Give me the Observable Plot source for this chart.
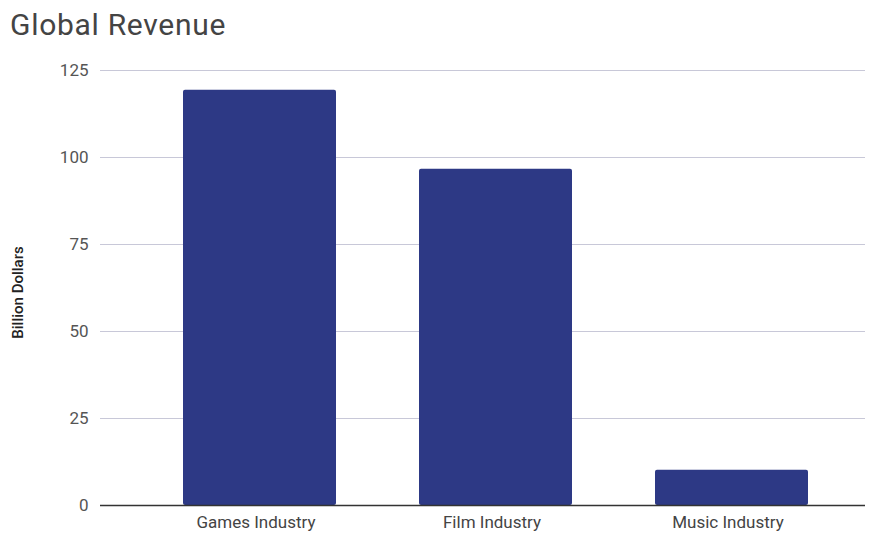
<!DOCTYPE html>
<html><head><meta charset="utf-8">
<script src="https://cdn.jsdelivr.net/npm/d3@7"></script>
<script src="https://cdn.jsdelivr.net/npm/@observablehq/plot@0.6"></script>
<style>
body{margin:0;background:#fff;font-family:Roboto,sans-serif;}
#title{position:absolute;left:10px;top:7px;font-size:30px;letter-spacing:0.7px;color:#444;font-family:Roboto;}
#chart{position:absolute;left:0;top:50px;}
</style></head><body>
<div id="title">Global Revenue</div>
<div id="chart"></div>
<script>
const categories = ["Games Industry", "Film Industry", "Music Industry"];
const revenue = [119.3, 96.6, 10.1];
const yTicks = [0, 25, 50, 75, 100, 125];
const yLabel = "Billion Dollars";
const data = categories.map((c, i) => ({category: c, value: revenue[i]}));
const plot = Plot.plot({
  width: 879, height: 483,
  marginTop: 20, marginBottom: 28, marginLeft: 100, marginRight: 14,
  style: {fontFamily: "Roboto", fontSize: "15px", color: "#555", background: "#fff"},
  x: {domain: categories, paddingInner: 0.353, paddingOuter: 0.294, align: 0.59, label: null},
  y: {domain: [0, 125], ticks: yTicks, label: null},
  marks: [
    Plot.gridY(yTicks.filter(d => d > 0), {stroke: "#c8c8d8", strokeOpacity: 1}),
    Plot.barY(data, {x: "category", y: "value", fill: "#2d3985", rx: 2}),
    Plot.ruleY([0], {stroke: "#333", strokeWidth: 1.3}),
    Plot.axisY(yTicks, {tickSize: 0, tickPadding: 12, fontSize: 17, fill: "#555", label: null}),
    Plot.axisX({tickSize: 0, tickPadding: 10, fontSize: 17, fill: "#444", label: null, dx: -4}),
    Plot.text([yLabel], {frameAnchor: "left", textAnchor: "middle", rotate: -90, dx: -82, dy: 4.5, fontSize: 15, fontWeight: 500, fill: "#222"})
  ]
});
document.getElementById("chart").appendChild(plot);
</script>
</body></html>
